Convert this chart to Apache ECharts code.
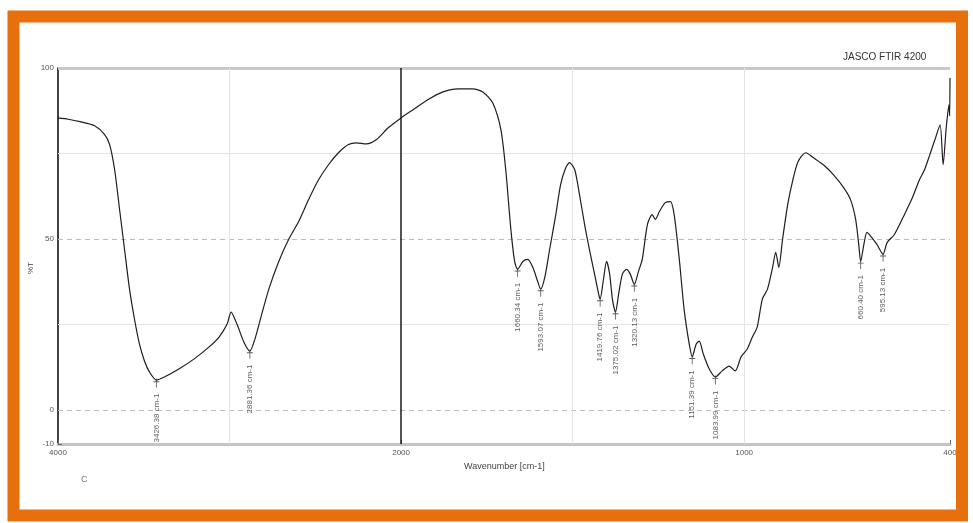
<!DOCTYPE html>
<html>
<head>
<meta charset="utf-8">
<title>FTIR spectrum</title>
<script src="https://cdn.jsdelivr.net/npm/echarts@6/dist/echarts.min.js"></script>
<style>
  html, body { margin: 0; padding: 0; background: #ffffff; }
  #chart { width: 973px; height: 523px; }
</style>
</head>
<body>
<div id="chart"></div>
<script>
// Spectrum: wavenumber (cm-1) and transmittance (%T)
const wavenumbers = [
  4000, 3940, 3872, 3786, 3728, 3699, 3670, 3641, 3612, 3583, 3554, 3525, 3496, 3467,
  3426.38, 3380, 3293, 3206, 3119, 3061, 3014, 2991, 2957, 2916, 2881.36, 2852, 2817,
  2771, 2713, 2655, 2597, 2539, 2481, 2423, 2365, 2307, 2261, 2203, 2145, 2075, 2000,
  1965, 1922, 1878, 1834, 1791, 1762, 1733, 1709, 1695, 1680, 1669, 1660.34, 1645, 1631,
  1616, 1602, 1593.07, 1581, 1567, 1549, 1535, 1520, 1509, 1494, 1480, 1465, 1451, 1436,
  1424, 1419.76, 1410, 1401, 1392, 1384, 1375.02, 1366, 1355, 1343, 1332, 1320.13, 1308,
  1297, 1282, 1268, 1259, 1247, 1230, 1215, 1204, 1189, 1175, 1160, 1151.39, 1140, 1131,
  1119, 1102, 1083.99, 1064, 1044, 1026, 1009, 991, 976, 962, 947, 932, 917, 908, 899,
  888, 873, 858, 843, 820, 799, 769, 740, 710, 690, 675, 666, 660.40, 651, 642, 628, 613,
  595.13, 583, 562, 533, 512, 489, 474, 459, 444, 429, 420, 411, 403, 401, 400
];
const transmittance = [
  85.4, 85.0, 84.3, 83.1, 80.5, 77.6, 70.3, 58.6, 46.9, 35.3, 26.5, 19.2, 14.3, 11.1,
  8.7, 9.6, 12.0, 14.9, 18.4, 21.3, 25.1, 28.6, 25.1, 19.8, 17.2, 20.7, 27.1,
  35.3, 43.4, 49.9, 55.1, 61.5, 67.3, 71.7, 75.2, 77.6, 78.1, 77.8, 79.0, 82.5, 85.4,
  87.8, 90.7, 93.0, 93.9, 93.9, 93.0, 89.8, 81.9, 70.3, 52.8, 43.4, 41.1, 43.4, 44.0,
  41.7, 37.6, 35.3, 38.8, 46.9, 57.1, 65.9, 70.8, 72.3, 70.3, 63.0, 54.2, 46.9, 39.7,
  33.8, 32.4, 38.2, 43.4, 39.7, 32.4, 28.6, 33.8, 39.7, 41.1, 39.7, 36.7, 40.5,
  44.0, 54.2, 57.1, 55.7, 58.0, 60.6, 60.9, 57.1, 44.0, 29.4, 19.2, 15.5, 19.2, 20.1,
  16.3, 12.0, 9.6, 11.4, 12.8, 11.4, 15.5, 17.8, 21.3, 24.2, 32.4, 35.3, 41.7, 46.1, 41.7,
  49.9, 60.1, 67.3, 72.6, 75.2, 73.8, 71.7, 68.8, 65.0, 61.5, 55.7, 48.4, 43.4, 48.4, 51.9, 50.4, 48.4,
  45.5, 49.0, 51.3, 57.1, 61.5, 67.3, 70.3, 74.6, 79.0, 83.4, 71.7, 82.5, 89.2, 86.0, 97.1
];

// Picked absorption bands
const peakWavenumbers = [3426.38, 2881.36, 1660.34, 1593.07, 1419.76, 1375.02, 1320.13, 1151.39, 1083.99, 660.40, 595.13];
const peakTransmittance = [8.7, 17.2, 41.1, 35.3, 32.4, 28.6, 36.7, 15.5, 9.6, 43.4, 45.5];

// Axis ticks
const xTickLabels = [4000, 2000, 1000, 400];
const xMinorTicks = [3000, 1500];
const yTickLabels = [-10, 0, 50, 100];

// JASCO-style abscissa: 4000-2000 cm-1 is drawn at half the scale of 2000-400 cm-1
function toAxis(wn) { return wn >= 2000 ? (4000 - wn) / 2 : 3000 - wn; }
function fromAxis(u) { return u <= 1000 ? 4000 - 2 * u : 3000 - u; }

const font = '"Liberation Sans", Arial, sans-serif';
const spectrum = wavenumbers.map((wn, i) => [toAxis(wn), transmittance[i]]);
const peaks = peakWavenumbers.map((wn, i) => ({ value: [toAxis(wn), peakTransmittance[i]], wn: wn }));

const lightGrid = { color: '#e4e4e4', width: 1, type: 'solid' };
const dashGrid = { color: '#bdbdbd', width: 1, type: [5, 4] };

const chart = echarts.init(document.getElementById('chart'), null, { renderer: 'canvas' });
chart.setOption({
  backgroundColor: '#ffffff',
  animation: false,
  grid: { left: 58, right: 23, top: 68, bottom: 79, containLabel: false },
  xAxis: {
    type: 'value',
    min: 0,
    max: 2600,
    axisLine: { show: true, onZero: false, lineStyle: { color: '#c4c4c4', width: 3 } },
    axisTick: {
      show: true, inside: true, length: 4,
      customValues: xTickLabels.concat(xMinorTicks).map(toAxis),
      lineStyle: { color: '#666', width: 1 }
    },
    axisLabel: {
      customValues: xTickLabels.map(toAxis),
      formatter: v => String(Math.round(fromAxis(v))),
      fontFamily: font, fontSize: 8, color: '#555', margin: 5
    },
    splitLine: { show: false }
  },
  yAxis: {
    type: 'value',
    min: -10,
    max: 100,
    axisLine: { show: true, onZero: false, lineStyle: { color: '#111', width: 1.6 } },
    axisTick: {
      show: true, inside: true, length: 4,
      customValues: [-10, 0, 25, 50, 75, 100],
      lineStyle: { color: '#666', width: 1 }
    },
    axisLabel: {
      customValues: yTickLabels,
      fontFamily: font, fontSize: 8, color: '#555', margin: 4
    },
    splitLine: { show: false }
  },
  series: [
    {
      type: 'line',
      data: spectrum,
      showSymbol: false,
      smooth: 0.25,
      lineStyle: { color: '#1e1e1e', width: 1.2 },
      z: 5,
      markLine: {
        silent: true,
        symbol: 'none',
        label: { show: false },
        animation: false,
        data: [
          { yAxis: 100, lineStyle: { color: '#c8c8c8', width: 3, type: 'solid' } },
          { yAxis: 75, lineStyle: lightGrid },
          { yAxis: 50, lineStyle: dashGrid },
          { yAxis: 25, lineStyle: lightGrid },
          { yAxis: 0, lineStyle: dashGrid },
          { xAxis: toAxis(3000), lineStyle: lightGrid },
          { xAxis: toAxis(1500), lineStyle: lightGrid },
          { xAxis: toAxis(1000), lineStyle: lightGrid },
          { xAxis: toAxis(2000), lineStyle: { color: '#1a1a1a', width: 1.5, type: 'solid' } }
        ]
      }
    },
    {
      type: 'scatter',
      data: peaks,
      symbol: 'path://M4,0h1v10h-1z M1,3h7v1h-7z',
      symbolSize: [6, 9],
      symbolOffset: [0, 3],
      itemStyle: { color: '#333' },
      z: 6,
      label: {
        show: true,
        position: 'bottom',
        distance: 6,
        rotate: 90,
        align: 'right',
        verticalAlign: 'middle',
        fontFamily: font,
        fontSize: 8,
        color: '#333',
        formatter: p => p.data.wn.toFixed(2) + ' cm-1'
      }
    }
  ],
  graphic: [
    {
      type: 'rect',
      silent: true,
      shape: { x: 13.5, y: 16.5, width: 948.5, height: 499 },
      style: { fill: null, stroke: '#e8700c', lineWidth: 12 },
      z: 100
    },
    {
      type: 'text', left: 843, top: 52,
      style: { text: 'JASCO FTIR 4200', fontFamily: font, fontSize: 10, fill: '#333' }
    },
    {
      type: 'text', left: 27, top: 262, rotation: Math.PI / 2,
      style: { text: '%T', fontFamily: font, fontSize: 8, fill: '#444' }
    },
    {
      type: 'text', left: 464, top: 462,
      style: { text: 'Wavenumber [cm-1]', fontFamily: font, fontSize: 9, fill: '#444' }
    },
    {
      type: 'text', left: 81, top: 475,
      style: { text: 'C', fontFamily: font, fontSize: 9, fill: '#777' }
    }
  ]
});
</script>
</body>
</html>
